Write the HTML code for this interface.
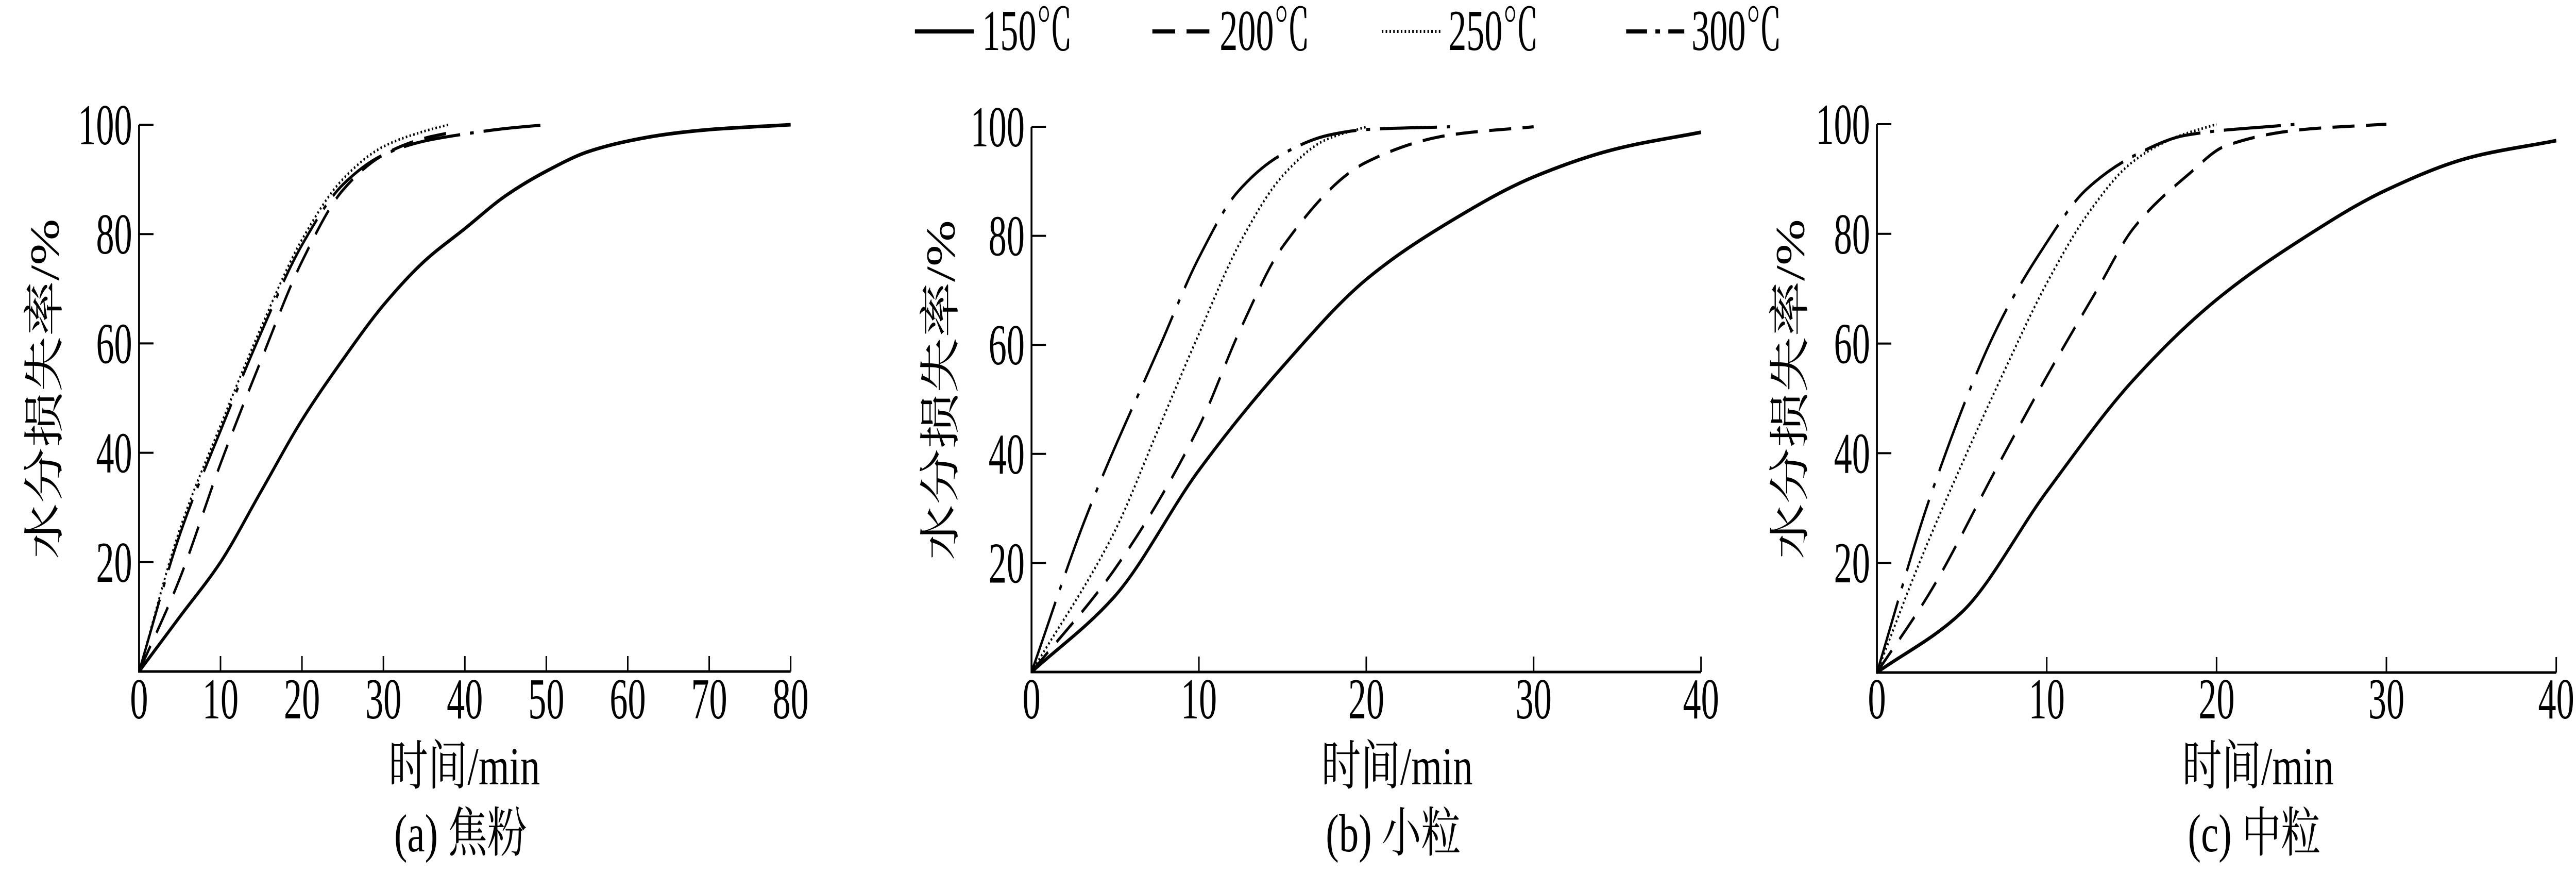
<!DOCTYPE html>
<html><head><meta charset="utf-8">
<style>html,body{margin:0;padding:0;background:#fff;overflow:hidden;width:100%;height:100%;}svg{display:block;position:fixed;left:0;top:0;width:100vw;height:100vh;}</style>
</head><body>
<svg id="fig" viewBox="0 0 6780 1694" preserveAspectRatio="none" xmlns="http://www.w3.org/2000/svg" font-family="'Liberation Serif','Noto Serif CJK SC','Noto Sans CJK SC',serif">
</svg>
<script>
// ---- data ----
const seriesNames = ["150℃","200℃","250℃","300℃"];
const xMaxes = [80, 40, 40];
const xTicksA = [0,10,20,30,40,50,60,70,80];
const xTicksBC = [0,10,20,30,40];
const yTicks = [0,20,40,60,80,100];
const captions = ["(a) 焦粉","(b) 小粒","(c) 中粒"];

const aT150 = [0,5,10,15,20,25,30,35,40,45,50,55,60,65,70,80];
const aV150 = [0,10,20,33,46,57,67,75,81,87,91.5,95,97,98.3,99.1,100];
const aT200 = [0,5,10,15,20,25,30,35,38];
const aV200 = [0,17,38,57,75,88,94.5,97.5,98.5];
const aT250 = [0,5,10,15,20,25,30,35,38];
const aV250 = [0,26,45,63,79,90,96,98.8,100];
const aT300 = [0,5,10,15,20,25,30,35,40,45,50];
const aV300 = [0,25,44,62,78,89,94.5,97,98.3,99.3,100];

const bT150 = [0,5,10,15,20,25,30,35,40];
const bV150 = [0,14,37,56,72,82.6,90.8,96,99];
const bT200 = [0,5,10,12.5,15,20,25,30];
const bV200 = [0,19,45,63,78,93.5,98.5,100];
const bT250 = [0,5,7.5,10,12.5,15,17.5,20];
const bV250 = [0,26,44,62,79,91,97.5,100];
const bT300 = [0,3.2,7.7,10,12.3,15,17.8,20,25];
const bV300 = [0,28,60,76,88,95,98.5,99.5,100];

const cT150 = [0,5,10,15,20,25,30,35,40];
const cV150 = [0,11,33,53,68,79,88,94,97];
const cT200 = [0,3.2,7.1,10,13,15.1,18.4,20.5,25,30];
const cV200 = [0,15,37.6,54,70,81,91,96,99,100];
const cT250 = [0,2.5,5,7.5,10,12.5,15,17.5,20];
const cV250 = [0,20,38,55,71,84,93,97.5,100];
const cT300 = [0,3.2,7.1,9.7,12.3,15.3,18.2,24.7];
const cV300 = [0,32.6,63,77,88,94.5,98,100];

const panelSeries = [
  [[aT150,aV150],[aT200,aV200],[aT250,aV250],[aT300,aV300]],
  [[bT150,bV150],[bT200,bV200],[bT250,bV250],[bT300,bV300]],
  [[cT150,cV150],[cT200,cV200],[cT250,cV250],[cT300,cV300]]
];

// ---- layout ----
const NS="http://www.w3.org/2000/svg";
const svg=document.getElementById('fig');
const panels=[
  {x0:366,x1:2081,y0:1303,y1:242,ylab:118,xlabc:1222},
  {x0:2715,x1:4477,y0:1304,y1:246,ylab:2476,xlabc:3677},
  {x0:4940,x1:6728,y0:1305,y1:241,ylab:4712,xlabc:5943}
];
const styles=[
  {w:7,dash:null},
  {w:6,dash:"58 30"},
  {w:5,dash:"4 6"},
  {w:6,dash:"150 26 10 26"}
];
function el(tag,attrs,parent){const e=document.createElementNS(NS,tag);for(const k in attrs)e.setAttribute(k,attrs[k]);(parent||svg).appendChild(e);return e;}
function txt(s,attrs,parent){const t=el('text',attrs,parent);t.textContent=s;return t;}

function monotone(pts){
  const n=pts.length;
  const dx=[],dy=[],m=[];
  for(let i=0;i<n-1;i++){dx.push(pts[i+1][0]-pts[i][0]);dy.push(pts[i+1][1]-pts[i][1]);m.push(dy[i]/dx[i]);}
  const t=new Array(n);
  t[0]=m[0];t[n-1]=m[n-2];
  for(let i=1;i<n-1;i++){
    if(m[i-1]*m[i]<=0)t[i]=0;
    else{const w1=2*dx[i]+dx[i-1],w2=dx[i]+2*dx[i-1];t[i]=(w1+w2)/(w1/m[i-1]+w2/m[i]);}
  }
  let d=`M${pts[0][0].toFixed(1)},${pts[0][1].toFixed(1)}`;
  for(let i=0;i<n-1;i++){
    const h=dx[i]/3;
    d+=` C${(pts[i][0]+h).toFixed(1)},${(pts[i][1]+t[i]*h).toFixed(1)} ${(pts[i+1][0]-h).toFixed(1)},${(pts[i+1][1]-t[i+1]*h).toFixed(1)} ${pts[i+1][0].toFixed(1)},${pts[i+1][1].toFixed(1)}`;
  }
  return d;
}

panels.forEach((p,pi)=>{
  const g=el('g',{});
  
  
  const xMax=xMaxes[pi];
  const sx=v=>p.x0+(p.x1-p.x0)*v/xMax;
  const sy=v=>p.y0-(p.y0-p.y1)*v/100;
  const ax=el('path',{d:`M${p.x0},${p.y1} L${p.x0},${p.y0} L${p.x1},${p.y0}`,fill:'none',stroke:'#000','stroke-width':5},g);
  
  
  const xt=pi===0?xTicksA:xTicksBC;
  xt.forEach(v=>{
    if(v>0){const t=el('line',{x1:sx(v),x2:sx(v),y1:p.y0,y2:p.y0-30,stroke:'#000','stroke-width':4},g);
      
      }
    const l=txt(String(v),{x:sx(v),y:1394,'text-anchor':'middle','font-size':112,transform:`translate(${sx(v)},1394) scale(0.85,1) translate(${-sx(v)},-1394)`},g);
    
    
  });
  yTicks.forEach(v=>{
    if(v>0){const t=el('line',{x1:p.x0,x2:p.x0+38,y1:sy(v),y2:sy(v),stroke:'#000','stroke-width':4},g);
      
      }
    if(v>0){const ex=p.x0-18;
      const l=txt(String(v),{x:ex,y:sy(v)+38,'text-anchor':'end','font-size':112,transform:`translate(${ex},0) scale(0.85,1) translate(${-ex},0)`},g);
      
      }
  });
  const yl=txt('水分损失率/%',{x:0,y:0,'text-anchor':'middle','font-size':108,transform:`translate(${p.ylab+36},${(p.y0+p.y1)/2-18}) rotate(-90)`},g);
  
  
  const xl=txt('时间/min',{x:p.xlabc,y:1522,'text-anchor':'middle','font-size':104},g);
  
  
  const cap=txt(captions[pi],{x:p.xlabc-10,y:1652,'text-anchor':'middle','font-size':104},g);
  
  
  panelSeries[pi].forEach((s,si)=>{
    const pts=s[0].map((t,i)=>[sx(t),sy(s[1][i])]);
    const st=styles[si];
    const a={d:monotone(pts),fill:'none',stroke:'#000','stroke-width':st.w,'stroke-linecap':'butt','stroke-linejoin':'round'};
    if(st.dash)a['stroke-dasharray']=st.dash;
    const path=el('path',a,g);
    
    
  });
});

const lg=el('g',{});


const legLines=[[2408,2563],[3033,3183],[3637,3792],[4280,4433]];
const legText=[2585,3210,3812,4452];
const legDash=[null,"60 30","4 6","55 22 12 22"];
seriesNames.forEach((n,i)=>{
  const a={x1:legLines[i][0],x2:legLines[i][1],y1:61,y2:61,stroke:'#000','stroke-width':i===2?6:8};
  if(legDash[i])a['stroke-dasharray']=legDash[i];
  const ln=el('line',a,lg);
  
  
  const t=txt(n,{x:legText[i],y:97,'font-size':112,transform:`translate(${legText[i]},0) scale(0.85,1) translate(${-legText[i]},0)`},lg);
  
  
});
</script>
</body></html>
